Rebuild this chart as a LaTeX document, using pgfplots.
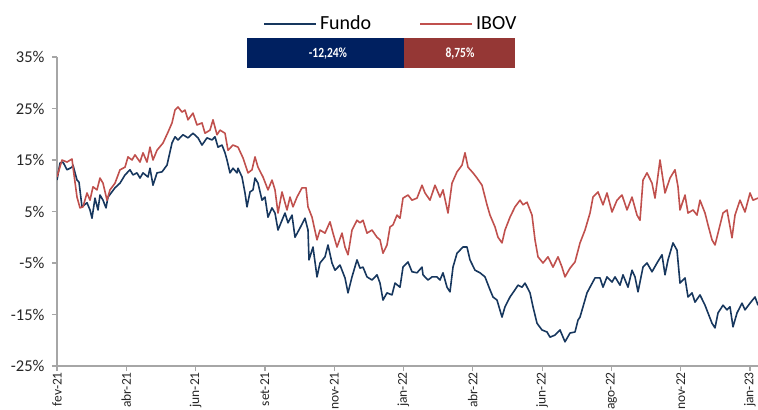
\documentclass[border=0pt]{standalone}
\usepackage{fontspec}
\setmainfont{Carlito}
\usepackage{graphicx}
\usepackage{pgfplots}
\pgfplotsset{compat=1.18}
\definecolor{fundo}{HTML}{17375E}
\definecolor{ibov}{HTML}{C0504D}
\definecolor{boxblue}{HTML}{002060}
\definecolor{boxred}{HTML}{953735}
\definecolor{axgray}{HTML}{A6A6A6}
\begin{document}
\begin{tikzpicture}
\path[use as bounding box, clip] (0bp,0bp) rectangle (758bp,410bp);
\begin{axis}[
  at={(57bp,44bp)}, anchor=south west,
  scale only axis, width=701bp, height=309bp,
  xmin=57, xmax=758, ymin=-25, ymax=35,
  axis x line*=bottom, axis y line*=left,
  axis line style={draw=axgray, line width=1.5bp, -},
  tick align=outside, major tick length=5bp,
  tick style={draw=axgray, line width=1.2bp},
  xtick={57,126.3,195.6,264.9,334.2,403.5,472.8,542.1,611.4,680.7,750},
  xticklabels={fev-21,abr-21,jun-21,set-21,nov-21,jan-22,abr-22,jun-22,ago-22,nov-22,jan-23},
  x tick label style={rotate=90, anchor=east, inner sep=1bp, font=\fontsize{13.5bp}{15bp}\selectfont, text=black!85},
  ytick={-25,-15,-5,5,15,25,35},
  yticklabels={-25\%,-15\%,-5\%,5\%,15\%,25\%,35\%},
  y tick label style={font=\fontsize{16.5bp}{18bp}\selectfont, text=black!85, xshift=-4bp},
  /pgf/number format/assume math mode=true,
  legend columns=2,
  legend style={at={(0.2939,1.108)}, anchor=west, draw=none, fill=none,
    inner sep=0pt, font=\fontsize{20bp}{22bp}\selectfont,
    nodes={inner sep=3bp},
    /tikz/every even column/.append style={column sep=45bp}},
  legend image code/.code={\draw[#1, line width=1.8bp] (0bp,0bp) -- (52bp,0bp);},
]
\addplot[fundo, line width=1.6bp, line join=round] coordinates {
(57,11.1) (60,14.4) (63,14.6) (67,13.1) (72,13.6) (73,14.0) (77,11.1) (79,10.7)
(82,5.9) (87,6.7) (90,5.3) (92,3.7) (95,7.6) (98,5.3) (100,8.2) (103,7.2)
(106,5.7) (108,7.8) (115,9.6) (120,10.5) (125,12.1) (130,13.1) (133,12.1) (137,12.5)
(140,11.5) (143,12.5) (148,11.7) (150,13.4) (153,10.1) (157,12.5) (162,12.7) (167,14.0)
(172,18.3) (175,19.5) (178,18.9) (183,19.9) (188,19.3) (193,20.2) (198,19.3) (202,17.9)
(207,19.3) (212,18.9) (215,19.5) (218,17.5) (222,17.9) (225,16.4) (227,15.0) (230,12.5)
(233,13.4) (237,12.5) (238,13.4) (242,11.7) (245,8.6) (247,5.9) (250,8.8) (253,9.2)
(255,11.5) (258,10.5) (262,7.2) (265,7.8) (268,3.9) (272,5.7) (275,4.7) (278,1.4)
(282,3.3) (285,4.7) (288,2.8) (292,4.3) (295,0.0) (300,1.8) (305,3.7) (308,1.4)
(309,-4.4) (313,-1.9) (317,-7.7) (320,-5.0) (325,-3.8) (328,-1.5) (332,-5.0) (335,-6.4)
(340,-5.4) (345,-7.9) (348,-10.8) (352,-7.7) (357,-4.4) (360,-6.0) (363,-5.8) (367,-7.7)
(372,-8.3) (377,-7.3) (380,-8.9) (383,-12.2) (387,-10.8) (392,-11.2) (395,-8.9) (400,-9.7)
(403,-5.8) (408,-4.8) (412,-6.7) (417,-6.9) (422,-5.8) (423,-7.3) (428,-8.3) (432,-7.7)
(437,-7.7) (440,-8.3) (443,-6.9) (447,-9.7) (450,-10.6) (453,-5.8) (457,-3.1) (460,-2.5)
(463,-1.9) (467,-1.9) (470,-4.4) (475,-6.4) (480,-6.9) (485,-7.7) (490,-10.2) (493,-11.6)
(497,-12.2) (502,-15.5) (505,-13.5) (510,-11.6) (515,-10.2) (518,-9.3) (522,-9.7) (525,-8.9)
(530,-10.8) (533,-13.5) (537,-16.7) (542,-18.0) (547,-18.4) (550,-19.4) (555,-19.0) (560,-18.0)
(565,-20.3) (570,-18.6) (575,-18.4) (578,-16.1) (580,-15.5) (583,-13.5) (587,-10.8) (590,-9.7)
(595,-7.9) (600,-7.9) (603,-9.7) (607,-7.7) (612,-8.7) (615,-7.7) (620,-9.3) (623,-7.3)
(628,-9.7) (632,-6.4) (635,-7.7) (638,-10.6) (643,-5.8) (647,-5.0) (652,-6.7) (657,-5.0)
(662,-3.4) (665,-7.3) (668,-4.4) (673,-1.1) (677,-2.5) (680,-8.9) (685,-7.9) (688,-11.6)
(692,-10.8) (695,-12.6) (700,-11.2) (705,-13.2) (708,-14.7) (712,-16.7) (715,-17.6) (718,-14.7)
(723,-13.2) (727,-14.1) (730,-13.5) (733,-17.4) (737,-14.7) (742,-12.8) (745,-14.1) (750,-12.8)
(755,-11.6) (758,-13.2)
};
\addlegendentry{Fundo}
\addplot[ibov, line width=1.6bp, line join=round] coordinates {
(57,11.7) (62,15.0) (67,14.6) (72,15.2) (73,13.6) (77,7.8) (80,5.7) (83,5.9)
(87,8.6) (90,7.2) (93,9.8) (97,9.2) (100,11.5) (103,10.5) (107,7.2) (110,9.2)
(115,10.5) (120,13.1) (125,13.6) (128,15.6) (132,15.0) (135,16.0) (140,14.6) (143,16.4)
(147,14.6) (150,17.5) (153,15.0) (157,16.9) (163,18.3) (168,20.4) (172,22.2) (175,24.7)
(178,25.3) (182,24.3) (185,24.7) (188,22.8) (193,24.1) (197,21.8) (202,22.2) (205,20.2)
(210,20.8) (213,22.8) (217,19.9) (220,20.8) (225,20.2) (228,16.9) (233,17.9) (238,17.5)
(243,15.4) (248,12.5) (252,13.1) (255,15.6) (258,13.6) (263,11.7) (268,9.2) (272,11.1)
(275,9.2) (278,4.7) (282,8.8) (287,5.3) (290,7.8) (293,5.9) (297,7.8) (302,9.6)
(306,9.6) (308,5.9) (312,3.9) (317,-0.5) (320,1.4) (325,0.8) (330,3.0) (333,0.8)
(337,-1.9) (342,0.8) (345,-1.9) (348,-3.4) (352,1.4) (357,3.3) (360,2.8) (363,3.3)
(367,0.8) (372,1.4) (377,0.0) (380,-0.5) (383,-3.1) (387,-1.5) (390,2.0) (393,2.4)
(397,4.3) (400,3.7) (403,7.6) (408,8.2) (412,7.2) (417,7.6) (422,10.1) (425,8.6)
(430,7.2) (435,10.1) (440,7.8) (443,9.2) (448,4.7) (452,10.5) (457,12.7) (462,14.0)
(465,16.4) (468,13.6) (473,12.5) (477,11.5) (482,10.1) (487,6.3) (490,4.3) (495,2.0)
(498,0.0) (502,-1.1) (505,1.4) (510,3.9) (515,5.9) (520,7.2) (523,6.3) (527,6.8)
(532,4.3) (535,-0.5) (538,-3.8) (543,-5.0) (548,-3.8) (553,-5.8) (558,-3.8) (562,-5.8)
(565,-7.7) (570,-6.0) (575,-4.8) (580,-1.1) (585,1.4) (590,4.7) (593,7.8) (598,8.8)
(603,6.3) (607,8.6) (612,4.9) (617,7.2) (622,8.2) (627,5.3) (632,7.8) (637,4.3)
(640,3.3) (643,11.1) (647,12.5) (652,10.5) (655,7.6) (660,15.0) (665,8.6) (670,11.5)
(675,13.1) (678,9.8) (680,5.3) (685,8.2) (688,4.7) (693,5.3) (697,4.3) (700,7.2)
(705,4.7) (708,2.4) (712,-0.5) (715,-1.5) (718,0.8) (723,4.7) (727,5.3) (732,-0.1)
(735,4.3) (740,7.2) (745,4.9) (750,8.6) (753,7.2) (758,7.6)
};
\addlegendentry{IBOV}
\end{axis}
\fill[boxblue] (247bp,342bp) rectangle (404bp,372bp);
\fill[boxred] (404bp,342bp) rectangle (515bp,372bp);
\node[text=white, font=\bfseries\fontsize{14bp}{16bp}\selectfont, inner sep=0pt] at (328bp,356bp) {\scalebox{0.82}[1]{-12,24\%}};
\node[text=white, font=\bfseries\fontsize{14bp}{16bp}\selectfont, inner sep=0pt] at (460bp,356bp) {\scalebox{0.82}[1]{8,75\%}};
\end{tikzpicture}
\end{document}
